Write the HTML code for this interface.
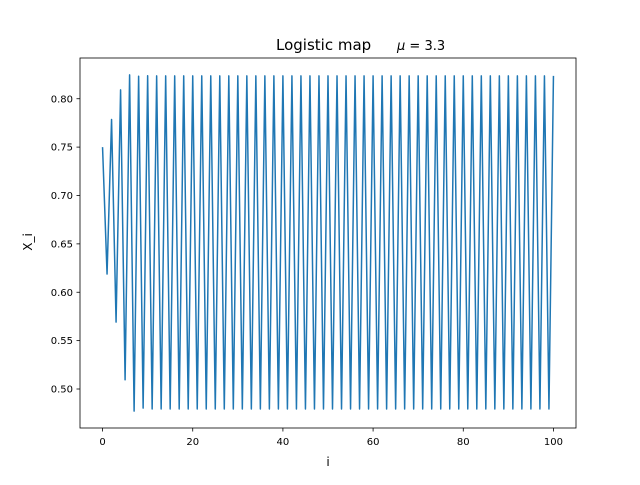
<!DOCTYPE html>
<html><head><meta charset="utf-8"><style>
body{margin:0;background:#fff;}
svg{font-family:"DejaVu Sans","Liberation Sans",sans-serif;}
</style></head><body>
<svg id="chart" width="640" height="480" viewBox="0 0 640 480" xmlns="http://www.w3.org/2000/svg">
<rect x="0" y="0" width="640" height="480" fill="#fff"/>
<g id="plot"></g>
<text x="276" y="50" font-size="15">Logistic map</text>
<text x="397" y="50" font-size="13"><tspan font-style="italic">μ</tspan> = 3.3</text>
<text x="328" y="466" font-size="12" text-anchor="middle">i</text>
<text x="0" y="0" font-size="12" text-anchor="middle" transform="translate(32,242) rotate(-90)">X_i</text>
</svg>
<script>
const head = [0.75,0.6188,0.7785,0.5691,0.8092,0.5095,0.8247,0.4771,0.8233,0.4802,0.8237,0.4793];
const low = 0.4794, high = 0.8236;
const xs = [];
const ys = [];
for (let i = 0; i <= 100; i++) { xs.push(i); ys.push(i < head.length ? head[i] : (i % 2 === 0 ? high : low)); }
const xTicks = [0,20,40,60,80,100];
const yTicks = [0.50,0.55,0.60,0.65,0.70,0.75,0.80];
const L=80,R=576,T=58,B=428;
const xmin=-5,xmax=105,ymin=0.4597,ymax=0.8421;
const sx=v=>L+(v-xmin)/(xmax-xmin)*(R-L);
const sy=v=>B-(v-ymin)/(ymax-ymin)*(B-T);
const ns="http://www.w3.org/2000/svg";
const g=document.getElementById('plot');
function mk(t,a){const e=document.createElementNS(ns,t);for(const k in a)e.setAttribute(k,a[k]);g.appendChild(e);return e;}
let d='';
xs.forEach((x,i)=>{d+=(i?'L':'M')+sx(x).toFixed(2)+','+sy(ys[i]).toFixed(2);});
const line=mk('path',{d:d,fill:'none',stroke:'#1f77b4','stroke-width':1.5,'stroke-linejoin':'round'});


const frame=mk('rect',{x:L,y:T,width:R-L,height:B-T,fill:'none',stroke:'#000','stroke-width':0.8});


xTicks.forEach(t=>{
 const tk=mk('line',{x1:sx(t),x2:sx(t),y1:B,y2:B+3.5,stroke:'#000','stroke-width':0.8});
 
 
 const tl=mk('text',{x:sx(t),y:B+17,'font-size':10,'text-anchor':'middle'});
 tl.textContent=String(t);
 
 
});
yTicks.forEach(t=>{
 const tk=mk('line',{x1:L-3.5,x2:L,y1:sy(t),y2:sy(t),stroke:'#000','stroke-width':0.8});
 
 
 const tl=mk('text',{x:L-7,y:sy(t)+3.6,'font-size':10,'text-anchor':'end'});
 tl.textContent=t.toFixed(2);
 
 
});
</script>
</body></html>
